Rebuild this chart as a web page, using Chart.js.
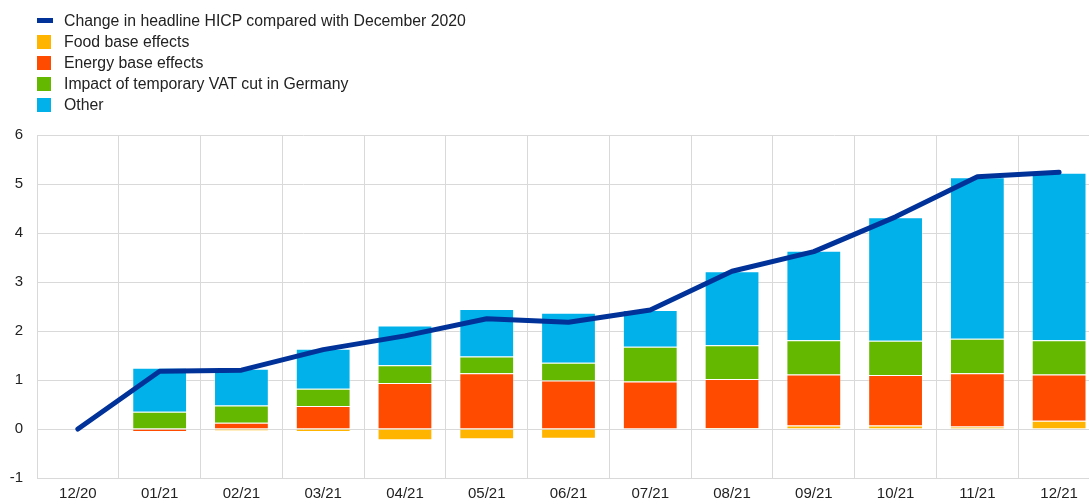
<!DOCTYPE html>
<html>
<head>
<meta charset="utf-8">
<script src="https://cdn.jsdelivr.net/npm/chart.js@4/dist/chart.umd.min.js"></script>
<style>
    html, body { margin: 0; padding: 0; background: #fff; }
    body { width: 1089px; height: 504px; position: relative; overflow: hidden; font-family: Arial, "Liberation Sans", sans-serif; }
    /* plot runs a little past the right edge, as in the original */
    #chartBox { position: absolute; left: 0; top: 0; width: 1100px; height: 504px; }
    #legend { position: absolute; left: 37px; top: 10px; }
    .legend-row { position: relative; height: 21px; line-height: 21px; font-size: 15.8px; color: #222; padding-left: 27px; white-space: nowrap; }
    .legend-row .swatch { position: absolute; left: 0; top: 3.5px; width: 14px; height: 14px; }
    .legend-row .swatch.line { top: 8px; width: 16px; height: 5px; }
</style>
</head>
<body>
<div id="chartBox"><canvas id="hicpChart"></canvas></div>
<div id="legend"></div>
<script>
// month labels
const labels = ['12/20', '01/21', '02/21', '03/21', '04/21', '05/21', '06/21', '07/21', '08/21', '09/21', '10/21', '11/21', '12/21'];

// percentage points, change vs December 2020
const headline = [0, 1.18, 1.20, 1.62, 1.90, 2.25, 2.18, 2.43, 3.22, 3.62, 4.33, 5.15, 5.24];
const food     = [null, 0.00, -0.04, -0.06, -0.23, -0.21, -0.20, 0.00, 0.02, 0.07, 0.07, 0.05, 0.17];
const energy   = [null, -0.06, 0.13, 0.47, 0.94, 1.14, 0.99, 0.97, 1.00, 1.04, 1.03, 1.09, 0.94];
const vatCut   = [null, 0.35, 0.35, 0.35, 0.36, 0.34, 0.36, 0.71, 0.69, 0.70, 0.70, 0.70, 0.70];
const other    = [null, 0.90, 0.75, 0.82, 0.81, 0.97, 1.02, 0.75, 1.51, 1.83, 2.52, 3.30, 3.42];

const yTicks = [-1, 0, 1, 2, 3, 4, 5, 6];

const colors = {
    headline: '#003299',
    food: '#ffb400',
    energy: '#ff4b00',
    vat: '#65b800',
    other: '#00b1ea'
};

const fontFamily = "Arial, 'Liberation Sans', sans-serif";

function barSet(label, data, color) {
    return {
        type: 'bar',
        label: label,
        data: data,
        backgroundColor: color,
        borderColor: 'rgba(255,255,255,0.25)',
        borderWidth: 1,
        stack: 'parts',
        order: 1,
        categoryPercentage: 1,
        barPercentage: 0.67
    };
}

const datasets = [
    {
        type: 'line',
        label: 'Change in headline HICP compared with December 2020',
        data: headline,
        borderColor: colors.headline,
        backgroundColor: colors.headline,
        borderWidth: 5,
        borderCapStyle: 'round',
        borderJoinStyle: 'round',
        pointRadius: 0,
        tension: 0,
        stack: 'line',
        order: 0
    },
    barSet('Food base effects', food, colors.food),
    barSet('Energy base effects', energy, colors.energy),
    barSet('Impact of temporary VAT cut in Germany', vatCut, colors.vat),
    barSet('Other', other, colors.other)
];

// legend built from the datasets
const legendBox = document.getElementById('legend');
datasets.forEach(ds => {
    const row = document.createElement('div');
    row.className = 'legend-row';
    const sw = document.createElement('span');
    sw.className = 'swatch' + (ds.type === 'line' ? ' line' : '');
    sw.style.background = ds.type === 'line' ? ds.borderColor : ds.backgroundColor;
    row.appendChild(sw);
    row.appendChild(document.createTextNode(ds.label));
    legendBox.appendChild(row);
});

const ctx = document.getElementById('hicpChart').getContext('2d');
const chart = new Chart(ctx, {
    type: 'bar',
    data: {
        labels: labels,
        datasets: datasets
    },
    options: {
        responsive: true,
        maintainAspectRatio: false,
        animation: false,
        layout: {
            padding: { top: 135, right: 0, bottom: 0, left: 0 }
        },
        plugins: {
            legend: { display: false },
            tooltip: { enabled: false }
        },
        scales: {
            x: {
                stacked: true,
                grid: {
                    offset: true,
                    color: '#d9d9d9',
                    lineWidth: 1,
                    drawTicks: false
                },
                border: { color: '#d9d9d9' },
                ticks: {
                    color: '#222',
                    padding: 7,
                    maxRotation: 0,
                    autoSkip: false,
                    font: { family: fontFamily, size: 15 }
                },
                afterFit: scale => { scale.height = 26; }
            },
            y: {
                stacked: true,
                min: yTicks[0],
                max: yTicks[yTicks.length - 1],
                afterBuildTicks: scale => {
                    scale.ticks = yTicks.map(v => ({ value: v }));
                },
                grid: {
                    color: '#d9d9d9',
                    lineWidth: 1,
                    drawTicks: false
                },
                border: { color: '#d9d9d9' },
                ticks: {
                    color: '#222',
                    padding: 14,
                    font: { family: fontFamily, size: 15 }
                },
                afterFit: scale => { scale.width = 37; }
            }
        }
    }
});
</script>
</body>
</html>
